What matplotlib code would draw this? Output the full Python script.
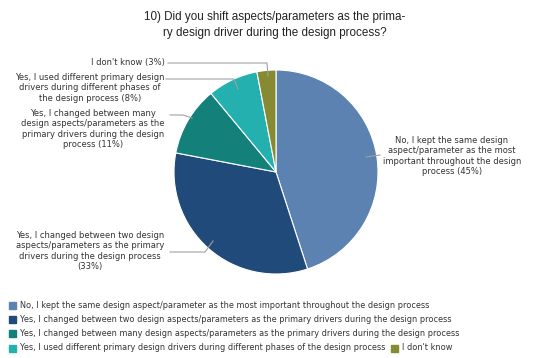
import matplotlib.pyplot as plt
from matplotlib.patches import Rectangle

W, H = 536, 358

# survey answers
answers = [
    "No, I kept the same design aspect/parameter as the most important throughout the design process",
    "Yes, I changed between two design aspects/parameters as the primary drivers during the design process",
    "Yes, I changed between many design aspects/parameters as the primary drivers during the design process",
    "Yes, I used different primary design drivers during different phases of the design process",
    "I don't know",
]
shares = [45, 33, 11, 8, 3]
callouts = [
    "No, I kept the same design\naspect/parameter as the most\nimportant throughout the design\nprocess (45%)",
    "Yes, I changed between two design\naspects/parameters as the primary\ndrivers during the design process\n(33%)",
    "Yes, I changed between many\ndesign aspects/parameters as the\nprimary drivers during the design\nprocess (11%)",
    "Yes, I used different primary design\ndrivers during different phases of\nthe design process (8%)",
    "I don't know (3%)",
]
colors = ["#5b82b0", "#1f4a7a", "#14807a", "#25b0b0", "#868a32"]

# layout in pixels (y from top): text anchor, leader path
text_pos = [(452, 141), (90, 236), (93, 114), (90, 78), (165, 63)]
text_ha = ["center", "center", "center", "center", "right"]
leader = [
    [(366, 157), (380, 155)],
    [(213, 241), (205, 252), (170, 252)],
    [(192, 118), (183, 115), (170, 115)],
    [(238, 89), (234, 79), (166, 79)],
    [(268, 76), (267, 63), (168, 63)],
]

cx, cy, r = 276, 172, 102

fig = plt.figure(figsize=(W / 100, H / 100), dpi=100)
ax = fig.add_axes([0, 0, 1, 1])
ax.pie(shares, colors=colors, startangle=90, counterclock=False,
       center=(cx, H - cy), radius=r,
       wedgeprops=dict(edgecolor="white", linewidth=0.8))
ax.set_xlim(0, W)
ax.set_ylim(0, H)
ax.set_aspect("auto")
ax.axis("off")

ax.text(275, H - 25, "10) Did you shift aspects/parameters as the prima-\nry design driver during the design process?",
        ha="center", va="center", fontsize=8.4, family="Liberation Sans",
        color="#222222", linespacing=1.45)

for txt, (tx, ty), ha, path in zip(callouts, text_pos, text_ha, leader):
    ax.text(tx, H - ty + 5, txt, ha=ha, va="top", fontsize=6.0,
            color="#333333", linespacing=1.2, multialignment="center")
    xs = [p[0] for p in path]
    ys = [H - p[1] for p in path]
    ax.plot(xs, ys, color="#a0a0a0", lw=0.8)

# legend, entries flow left to right and wrap
rows = [[0], [1], [2], [3, 4]]
row_y = [305, 319, 333, 348]
renderer = fig.canvas.get_renderer()
for items, y in zip(rows, row_y):
    x = 9
    for i in items:
        ax.add_patch(Rectangle((x, H - y - 3.5), 7, 7, color=colors[i]))
        t = ax.text(x + 11, H - y, answers[i], ha="left", va="center",
                    fontsize=5.85, color="#333333")
        x = t.get_window_extent(renderer).x1 + 6

fig.savefig("out.png", dpi=100)
